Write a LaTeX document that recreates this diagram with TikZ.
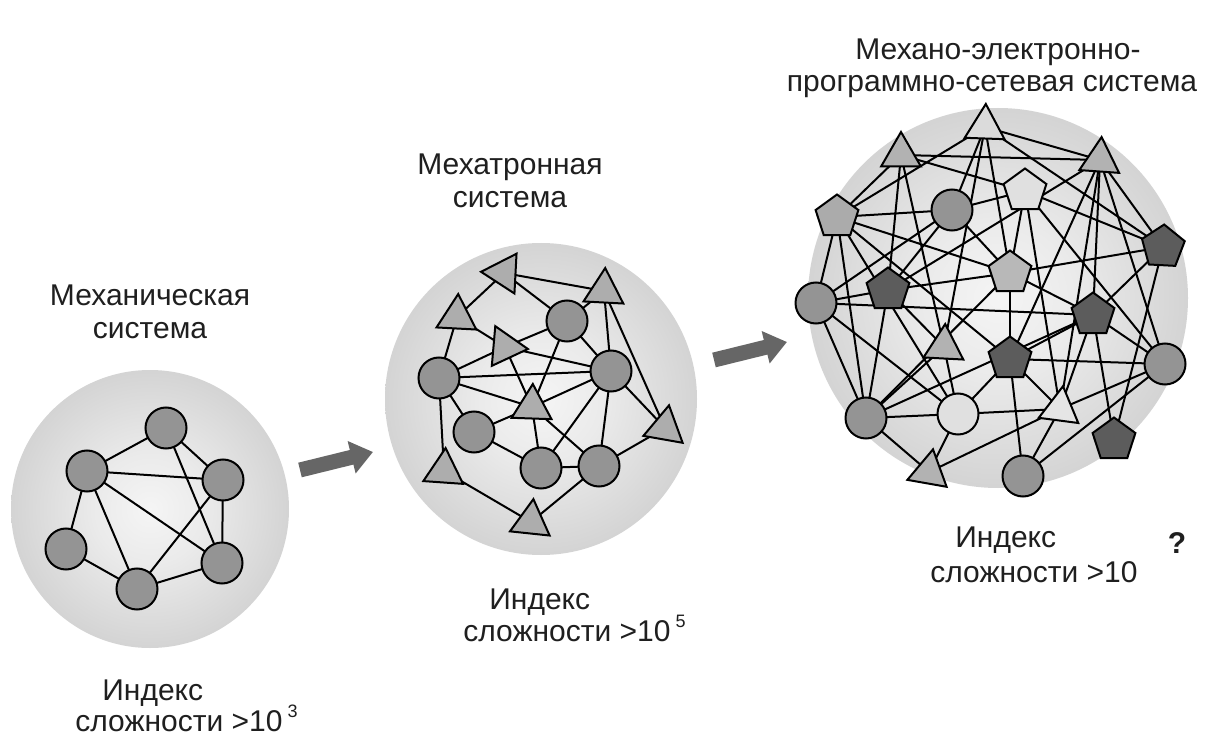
\documentclass[tikz,border=0pt]{standalone}
\usepackage{fontspec}
\setmainfont{Liberation Sans}
\usetikzlibrary{shapes.geometric,arrows.meta}
\pgfdeclarelayer{bg}
\pgfdeclarelayer{edges}
\pgfsetlayers{bg,edges,main}
\pgfdeclareradialshading{sphereshade}{\pgfpoint{0bp}{0bp}}{color(0bp)=(black!4); color(10bp)=(black!8); color(25bp)=(black!17); color(40bp)=(black!28); color(47bp)=(black!34); color(50bp)=(black!30)}
\definecolor{nodegray}{gray}{0.58}
\definecolor{trigray}{gray}{0.68}
\definecolor{darkpent}{gray}{0.36}
\definecolor{arrowgray}{gray}{0.4}
\definecolor{txtcol}{gray}{0.12}
\begin{document}
\begin{tikzpicture}[x=0.5pt,y=-0.5pt,
  txt/.style={text=txtcol,font=\fontsize{15}{16}\selectfont,inner sep=0pt},
  circ/.style={circle,draw=black,line width=1pt,fill=nodegray,minimum size=20.5pt,inner sep=0pt,outer sep=0pt},
  tri/.style={regular polygon,regular polygon sides=3,draw=black,line width=1pt,fill=trigray,minimum size=23pt,inner sep=0pt,outer sep=0pt},
  pent/.style={regular polygon,regular polygon sides=5,draw=black,line width=1pt,fill=trigray,minimum size=22.5pt,inner sep=0pt,outer sep=0pt},
  edge/.style={draw=black,line width=1pt},
  bigarrow/.style={draw=arrowgray,line width=7.5pt,-{Triangle[width=16pt,length=11pt]}}
]
\useasboundingbox (0,0) rectangle (1206,738);
\begin{pgfonlayer}{bg}
  \fill[white] (0,0) rectangle (1206,738);
  \shade[shading=sphereshade] (150,509) circle[radius=69.5pt];
  \shade[shading=sphereshade] (541,399) circle[radius=78pt];
  \shade[shading=sphereshade] (998,298) circle[radius=95pt];
\end{pgfonlayer}

% ---------- sphere 1 ----------
\node[circ] (a1) at (166,428) {};
\node[circ] (a2) at (87,471) {};
\node[circ] (a3) at (223,480) {};
\node[circ] (a4) at (66,549) {};
\node[circ] (a5) at (137,589) {};
\node[circ] (a6) at (222,563) {};

% ---------- sphere 2 ----------
\node[circ] (b1) at (567,321) {};
\node[circ] (b2) at (439,378) {};
\node[circ] (b3) at (611,371) {};
\node[circ] (b4) at (474,432) {};
\node[circ] (b5) at (541,468) {};
\node[circ] (b6) at (599,466) {};
\node[tri,rotate=87] (s1) at (504,273) {};
\node[tri,rotate=-3] (s2) at (604,291) {};
\node[tri,rotate=-3] (s3) at (457,317) {};
\node[tri,rotate=25] (s4) at (505,347) {};
\node[tri,rotate=-2] (s5) at (532,407) {};
\node[tri,rotate=-10] (s6) at (665,428) {};
\node[tri,rotate=-4] (s7) at (444,471) {};
\node[tri,rotate=-6] (s8) at (531,522) {};

% ---------- sphere 3 ----------
\node[tri,fill=black!14,rotate=-2] (T1) at (985,127) {};
\node[tri,fill=black!30] (T2) at (901,155) {};
\node[tri,fill=black!30,rotate=-4] (T3) at (1100,160) {};
\node[pent,fill=black!33] (P1) at (837,217) {};
\node[circ] (C1) at (952,210) {};
\node[pent,fill=black!12] (P2) at (1025,191) {};
\node[pent,fill=darkpent,rotate=-3] (P4) at (1163,247) {};
\node[pent,fill=black!28] (P3) at (1010,273) {};
\node[pent,fill=darkpent] (P5) at (888,290) {};
\node[circ] (C2) at (816,303) {};
\node[pent,fill=darkpent] (P6) at (1093,315) {};
\node[tri,fill=black!30,rotate=-3] (T4) at (944,347) {};
\node[pent,fill=darkpent] (P7) at (1010,359) {};
\node[circ] (C3) at (1165,364) {};
\node[circ] (C4) at (866,418) {};
\node[circ,fill=black!12] (C5) at (958,414) {};
\node[tri,fill=black!10,rotate=-7.5] (T5) at (1060,409) {};
\node[pent,fill=darkpent] (P8) at (1114,440) {};
\node[tri,fill=black!30,rotate=-10] (T6) at (929,472) {};
\node[circ] (C6) at (1023,476) {};

\begin{pgfonlayer}{edges}
\foreach \u/\v in {a1/a2,a1/a3,a1/a6,a2/a3,a2/a4,a2/a5,a2/a6,a3/a5,a3/a6,a4/a5,a5/a6}
  \draw[edge] (\u) -- (\v);
\foreach \u/\v in {s1/s2,s1/b1,s1/s3,s3/s4,s3/b2,s2/b1,s2/b3,s2/s6,b1/s4,b1/s5,b1/b3,s4/b3,s4/s5,b2/s4,b2/b3,b2/s5,b2/b4,b2/s7,b4/s5,b4/b5,s5/b5,s5/b6,s5/b3,b5/b3,b5/b6,b3/b6,b3/s6,b6/s6,s7/s8,s8/b6}
  \draw[edge] (\u) -- (\v);
\foreach \u/\v in {T1/T3,T1/P4,T1/P1,T1/C1,T1/T4,T1/P3,
  T2/T3,T2/P2,T2/P5,T2/T4,T2/P1,
  T3/P4,T3/C3,T3/P6,T3/P7,T3/T5,T3/P5,
  P1/C1,P1/P3,P1/C2,P1/C4,P1/P7,P1/C5,
  C1/P2,C1/P3,C1/P5,C1/C2,
  P2/P4,P2/P3,P2/C3,P2/T5,
  P4/P3,P4/P6,P4/P8,
  P3/P7,P3/P6,P3/P5,P3/C4,
  P5/C2,P5/C4,P5/T4,
  P6/C2,P6/C3,P6/P8,P6/T5,P6/P7,P6/C4,
  P7/C3,P7/C6,P7/T5,P7/C5,
  C3/T5,C3/C6,
  C4/C2,C4/C5,C4/T6,C4/T4,
  C5/C2,C5/T5,C5/T6,C5/T4,
  T6/T5,C6/T5}
  \draw[edge] (\u) -- (\v);
\end{pgfonlayer}

% ---------- arrows ----------
\coordinate (ar1s) at (300,470);
\coordinate (ar1e) at (373,452);
\coordinate (ar2s) at (714,360);
\coordinate (ar2e) at (787,342);
\draw[bigarrow] (ar1s) -- (ar1e);
\draw[bigarrow] (ar2s) -- (ar2e);

% ---------- texts ----------
\node[txt,anchor=base] (l1a) at (150,306) {Механическая};
\node[txt,anchor=base] (l1b) at (150,338) {система};
\node[txt,anchor=base] (l2a) at (510,175) {Мехатронная};
\node[txt,anchor=base] (l2b) at (510,207) {система};
\node[txt,anchor=base] (l3a) at (998,60) {Механо-электронно-};
\node[txt,anchor=base] (l3b) at (992,92) {программно-сетевая система};

\node[txt,anchor=base west] (i1a) at (102,700) {Индекс};
\node[txt,anchor=base west] (i1b) at (75,731) {сложности >10\,\raisebox{7pt}{\fontsize{9}{9}\selectfont 3}};
\node[txt,anchor=base west] (i2a) at (489,609) {Индекс};
\node[txt,anchor=base west] (i2b) at (463,641) {сложности >10\,\raisebox{7pt}{\fontsize{9}{9}\selectfont 5}};
\node[txt,anchor=base west] (i3a) at (955,547) {Индекс};
\node[txt,anchor=base west] (i3b) at (930,582) {сложности >10};
\node[txt,anchor=base,font=\bfseries\fontsize{15}{16}\selectfont] (q) at (1177,553) {?};
\end{tikzpicture}
\end{document}
